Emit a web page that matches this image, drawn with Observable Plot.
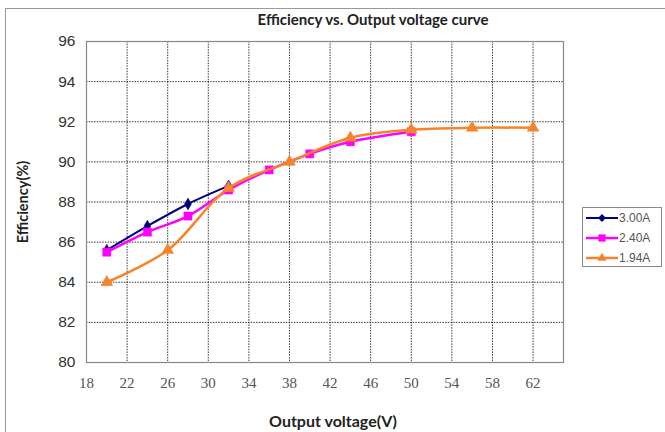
<!DOCTYPE html>
<html><head><meta charset="utf-8">
<script src="https://cdn.jsdelivr.net/npm/d3@7"></script>
<script src="https://cdn.jsdelivr.net/npm/@observablehq/plot@0.6"></script>
<style>
body{margin:0;background:#fff;overflow:hidden}
#wrap{position:relative;width:665px;height:432px;overflow:hidden;background:#fff}
#border{position:absolute;left:5px;top:8px;width:740px;height:520px;border:1.5px solid #9a9a9a;box-sizing:border-box}
#chart{position:absolute;left:0;top:0}
.lbl{position:absolute;font-family:Lato,"Open Sans",sans-serif;font-weight:bold;color:#222;white-space:nowrap}
#title{left:373px;top:10px;transform:translateX(-50%);font-size:15px}
#xlab{left:333px;top:411px;transform:translateX(-50%);font-size:16px}
#ylab{left:22px;top:202px;transform:translate(-50%,-50%) rotate(-90deg);font-size:14.5px}
#legend{position:absolute;left:582px;top:207px;width:80px;height:60px;border:1px solid #8a8a8a;box-sizing:border-box;background:#fff;font-family:"Liberation Sans",Arial,sans-serif;font-size:12px;color:#555}
.row{position:absolute;left:2px;height:14px;display:flex;align-items:center}
.row span{margin-left:0px}
</style></head><body>
<div id="wrap">
<div id="border"></div>
<div id="chart"></div>
<div id="title" class="lbl">Efficiency vs. Output voltage curve</div>
<div id="xlab" class="lbl">Output voltage(V)</div>
<div id="ylab" class="lbl">Efficiency(%)</div>
<div id="legend"></div>
</div>
<script>
// Data
const seriesNames = ["3.00A", "2.40A", "1.94A"];
const voltsA = [20, 24, 28, 32];
const effA   = [85.6, 86.8, 87.9, 88.8];
const voltsB = [20, 24, 28, 32, 36, 40, 44, 50];
const effB   = [85.5, 86.5, 87.3, 88.6, 89.6, 90.4, 91.0, 91.5];
const voltsC = [20, 26, 32, 38, 44, 50, 56, 62];
const effC   = [84.0, 85.6, 88.7, 90.0, 91.2, 91.6, 91.7, 91.7];
const xTicks = [18, 22, 26, 30, 34, 38, 42, 46, 50, 54, 58, 62];
const yTicks = [80, 82, 84, 86, 88, 90, 92, 94, 96];

const colors  = ["#000080", "#FF00FF", "#F5852C"];
const symbols = ["diamond", "square", "triangle"];
const radii   = [3.6, 4.6, 4.4];
const widths  = [2, 2.5, 2.5];

const sets = [[voltsA, effA], [voltsB, effB], [voltsC, effC]];
const series = sets.map(([vs, es], i) => vs.map((v, j) => ({v, e: es[j], s: seriesNames[i]})));

const marks = [
  Plot.gridX(xTicks, {stroke: "#222", strokeOpacity: 0.9, strokeDasharray: "1.5,1.2", strokeWidth: 1}),
  Plot.gridY(yTicks, {stroke: "#222", strokeOpacity: 0.9, strokeDasharray: "1.5,1.2", strokeWidth: 1}),
  Plot.frame({stroke: "#888", strokeWidth: 1.2}),
  Plot.axisX(xTicks, {tickSize: 0, tickPadding: 15, fontSize: 15, fontFamily: "Liberation Serif", fill: "#555", label: null}),
  Plot.axisY(yTicks, {tickSize: 0, tickPadding: 11, fontSize: 15.5, fontFamily: "Liberation Sans", fill: "#333", label: null})
];
series.forEach((d, i) => {
  marks.push(Plot.line(d, {x: "v", y: "e", stroke: colors[i], strokeWidth: widths[i], curve: "catmull-rom"}));
  marks.push(Plot.dot(d, {x: "v", y: "e", symbol: symbols[i], fill: colors[i], stroke: colors[i], strokeWidth: 0.5, r: radii[i]}));
});

const chart = Plot.plot({
  width: 665, height: 432,
  marginLeft: 86, marginRight: 102, marginTop: 41, marginBottom: 70,
  x: {domain: [18, 65]},
  y: {domain: [80, 96]},
  style: {background: "transparent"},
  marks
});
document.getElementById("chart").appendChild(chart);

// Legend
const legend = document.getElementById("legend");
const rowTops = [3, 23, 43];
seriesNames.forEach((name, i) => {
  const row = document.createElement("div");
  row.className = "row";
  row.style.top = rowTops[i] + "px";
  const svg = d3.create("svg").attr("width", 34).attr("height", 14);
  svg.append("line").attr("x1", 1).attr("x2", 33).attr("y1", 7).attr("y2", 7)
     .attr("stroke", colors[i]).attr("stroke-width", widths[i]);
  const sym = {diamond: d3.symbolDiamond2, square: d3.symbolSquare2, triangle: d3.symbolTriangle2}[symbols[i]];
  const size = Math.PI * radii[i] * radii[i];
  svg.append("path").attr("d", d3.symbol(sym, size)()).attr("transform", "translate(17,7)").attr("fill", colors[i]);
  row.appendChild(svg.node());
  const t = document.createElement("span");
  t.textContent = name;
  row.appendChild(t);
  legend.appendChild(row);
});
</script>
</body></html>
